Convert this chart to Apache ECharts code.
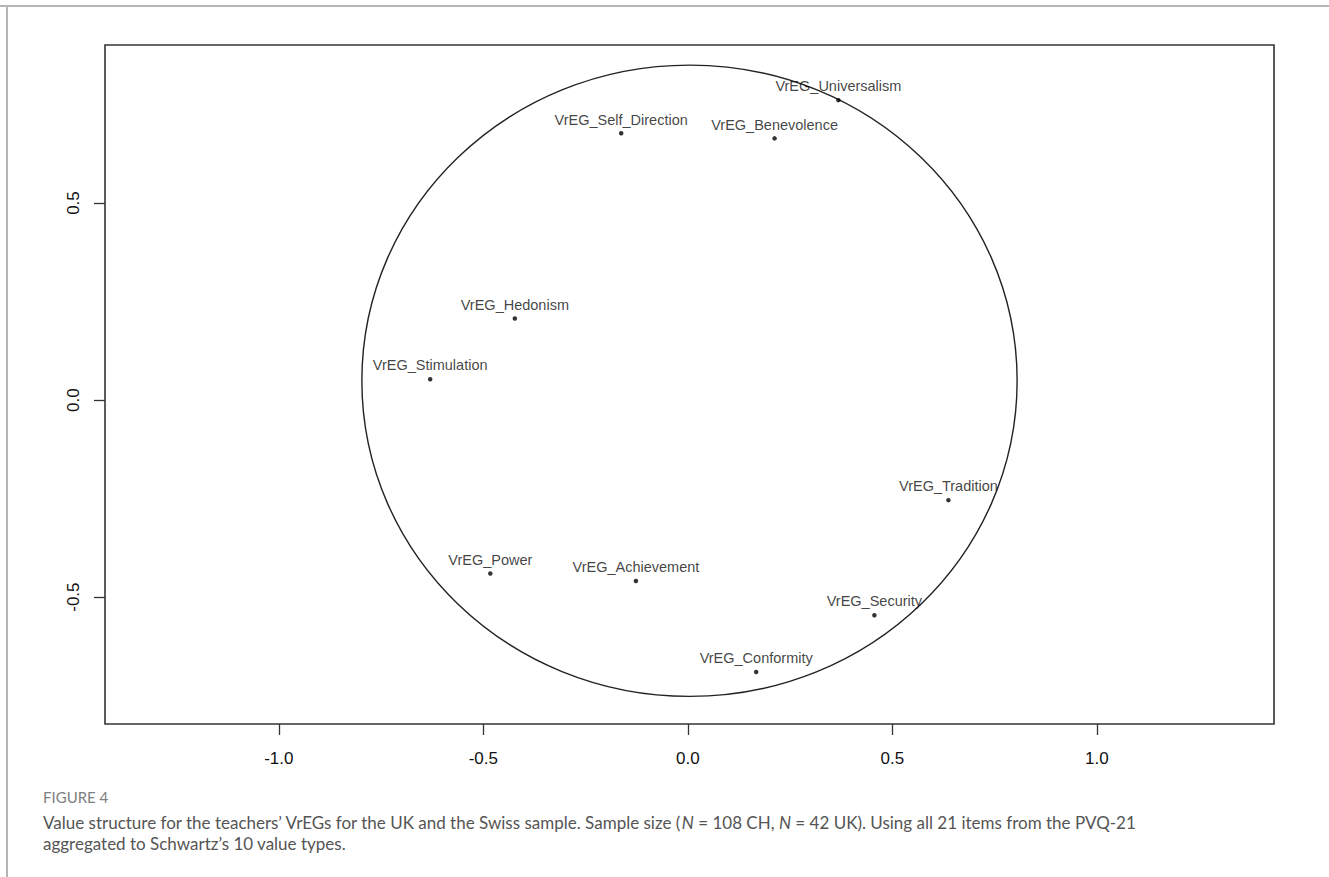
<!DOCTYPE html>
<html><head><meta charset="utf-8">
<script src="https://cdn.jsdelivr.net/npm/echarts@6/dist/echarts.min.js"></script>
<style>html,body{margin:0;padding:0;background:#fff}#c{width:1329px;height:877px}</style>
</head><body><div id="c"></div>
<script>
// Category labels and coordinates (dimension 1 = x, dimension 2 = y)
const labels = ['VrEG_Universalism', 'VrEG_Self_Direction', 'VrEG_Benevolence', 'VrEG_Hedonism', 'VrEG_Stimulation', 'VrEG_Power', 'VrEG_Achievement', 'VrEG_Tradition', 'VrEG_Security', 'VrEG_Conformity'];
const dim1 = [0.368, -0.163, 0.212, -0.423, -0.630, -0.483, -0.127, 0.637, 0.456, 0.167];
const dim2 = [0.761, 0.677, 0.664, 0.207, 0.053, -0.440, -0.459, -0.254, -0.546, -0.690];
const xTicks = [-1.0, -0.5, 0.0, 0.5, 1.0];
const yTicks = [-0.5, 0.0, 0.5];
const circleCenter = [0.004, 0.049];
const circleRadius = 0.801;
const xRange = [-1.425, 1.433];
const yRange = [-0.822, 0.901];

const chart = echarts.init(document.getElementById('c'), null, {renderer: 'svg'});
const pts = labels.map((n, i) => [dim1[i], dim2[i], n]);
const axisFont = 'Liberation Sans, Arial, sans-serif';
const capFont = 'Lato, "Open Sans", sans-serif';

chart.setOption({
  animation: false,
  backgroundColor: '#fff',
  grid: {left: 105, right: 55, top: 45, bottom: 153, show: true, borderColor: '#333', borderWidth: 1.6, backgroundColor: 'transparent'},
  xAxis: {
    type: 'value', min: xRange[0], max: xRange[1],
    axisLine: {show: false, onZero: false}, splitLine: {show: false},
    axisTick: {show: true, length: 11, customValues: xTicks, lineStyle: {color: '#333', width: 1.3}},
    axisLabel: {customValues: xTicks, formatter: v => v.toFixed(1), fontSize: 17, color: '#111', margin: 26, fontFamily: axisFont}
  },
  yAxis: {
    type: 'value', min: yRange[0], max: yRange[1],
    axisLine: {show: false, onZero: false}, splitLine: {show: false},
    axisTick: {show: true, length: 11, customValues: yTicks, lineStyle: {color: '#333', width: 1.3}},
    axisLabel: {customValues: yTicks, formatter: v => v.toFixed(1), rotate: 90, fontSize: 17, color: '#111', margin: 23, fontFamily: axisFont}
  },
  series: [
    {
      type: 'custom', silent: true,
      data: [[circleCenter[0], circleCenter[1], circleRadius]],
      renderItem: (params, api) => {
        const c = api.coord([api.value(0), api.value(1)]);
        const s = api.size([api.value(2), api.value(2)]);
        return {type: 'ellipse', shape: {cx: c[0], cy: c[1], rx: Math.abs(s[0]), ry: Math.abs(s[1])},
                style: {fill: 'none', stroke: '#222', lineWidth: 1.4}};
      }
    },
    {
      type: 'scatter', data: pts, symbol: 'circle', symbolSize: 4.5,
      itemStyle: {color: '#000'},
      label: {show: true, position: 'top', distance: 4, formatter: p => p.data[2], fontSize: 14.5, color: '#111', fontFamily: axisFont}
    }
  ],
  graphic: [
    {type: 'line', silent: true, shape: {x1: 0, y1: 6, x2: 1329, y2: 6}, style: {stroke: '#b5b5b5', lineWidth: 2}},
    {type: 'line', silent: true, shape: {x1: 7, y1: 6, x2: 7, y2: 877}, style: {stroke: '#b5b5b5', lineWidth: 2}},
    {type: 'text', x: 43, y: 797, style: {text: 'FIGURE 4', fontSize: 15, fontFamily: capFont, fill: '#808080', verticalAlign: 'middle'}},
    {type: 'text', x: 43, y: 822, style: {
      text: 'Value structure for the teachers\u2019 VrEGs for the UK and the Swiss sample. Sample size ({i|N} = 108 CH, {i|N} = 42 UK). Using all 21 items from the PVQ-21',
      fontSize: 17, fontFamily: capFont, fill: '#555', verticalAlign: 'middle',
      rich: {i: {fontStyle: 'italic', fontSize: 17, fontFamily: capFont, fill: '#555'}}
    }},
    {type: 'text', x: 43, y: 843, style: {text: 'aggregated to Schwartz\u2019s 10 value types.', fontSize: 17, fontFamily: capFont, fill: '#555', verticalAlign: 'middle'}}
  ]
});
</script></body></html>
